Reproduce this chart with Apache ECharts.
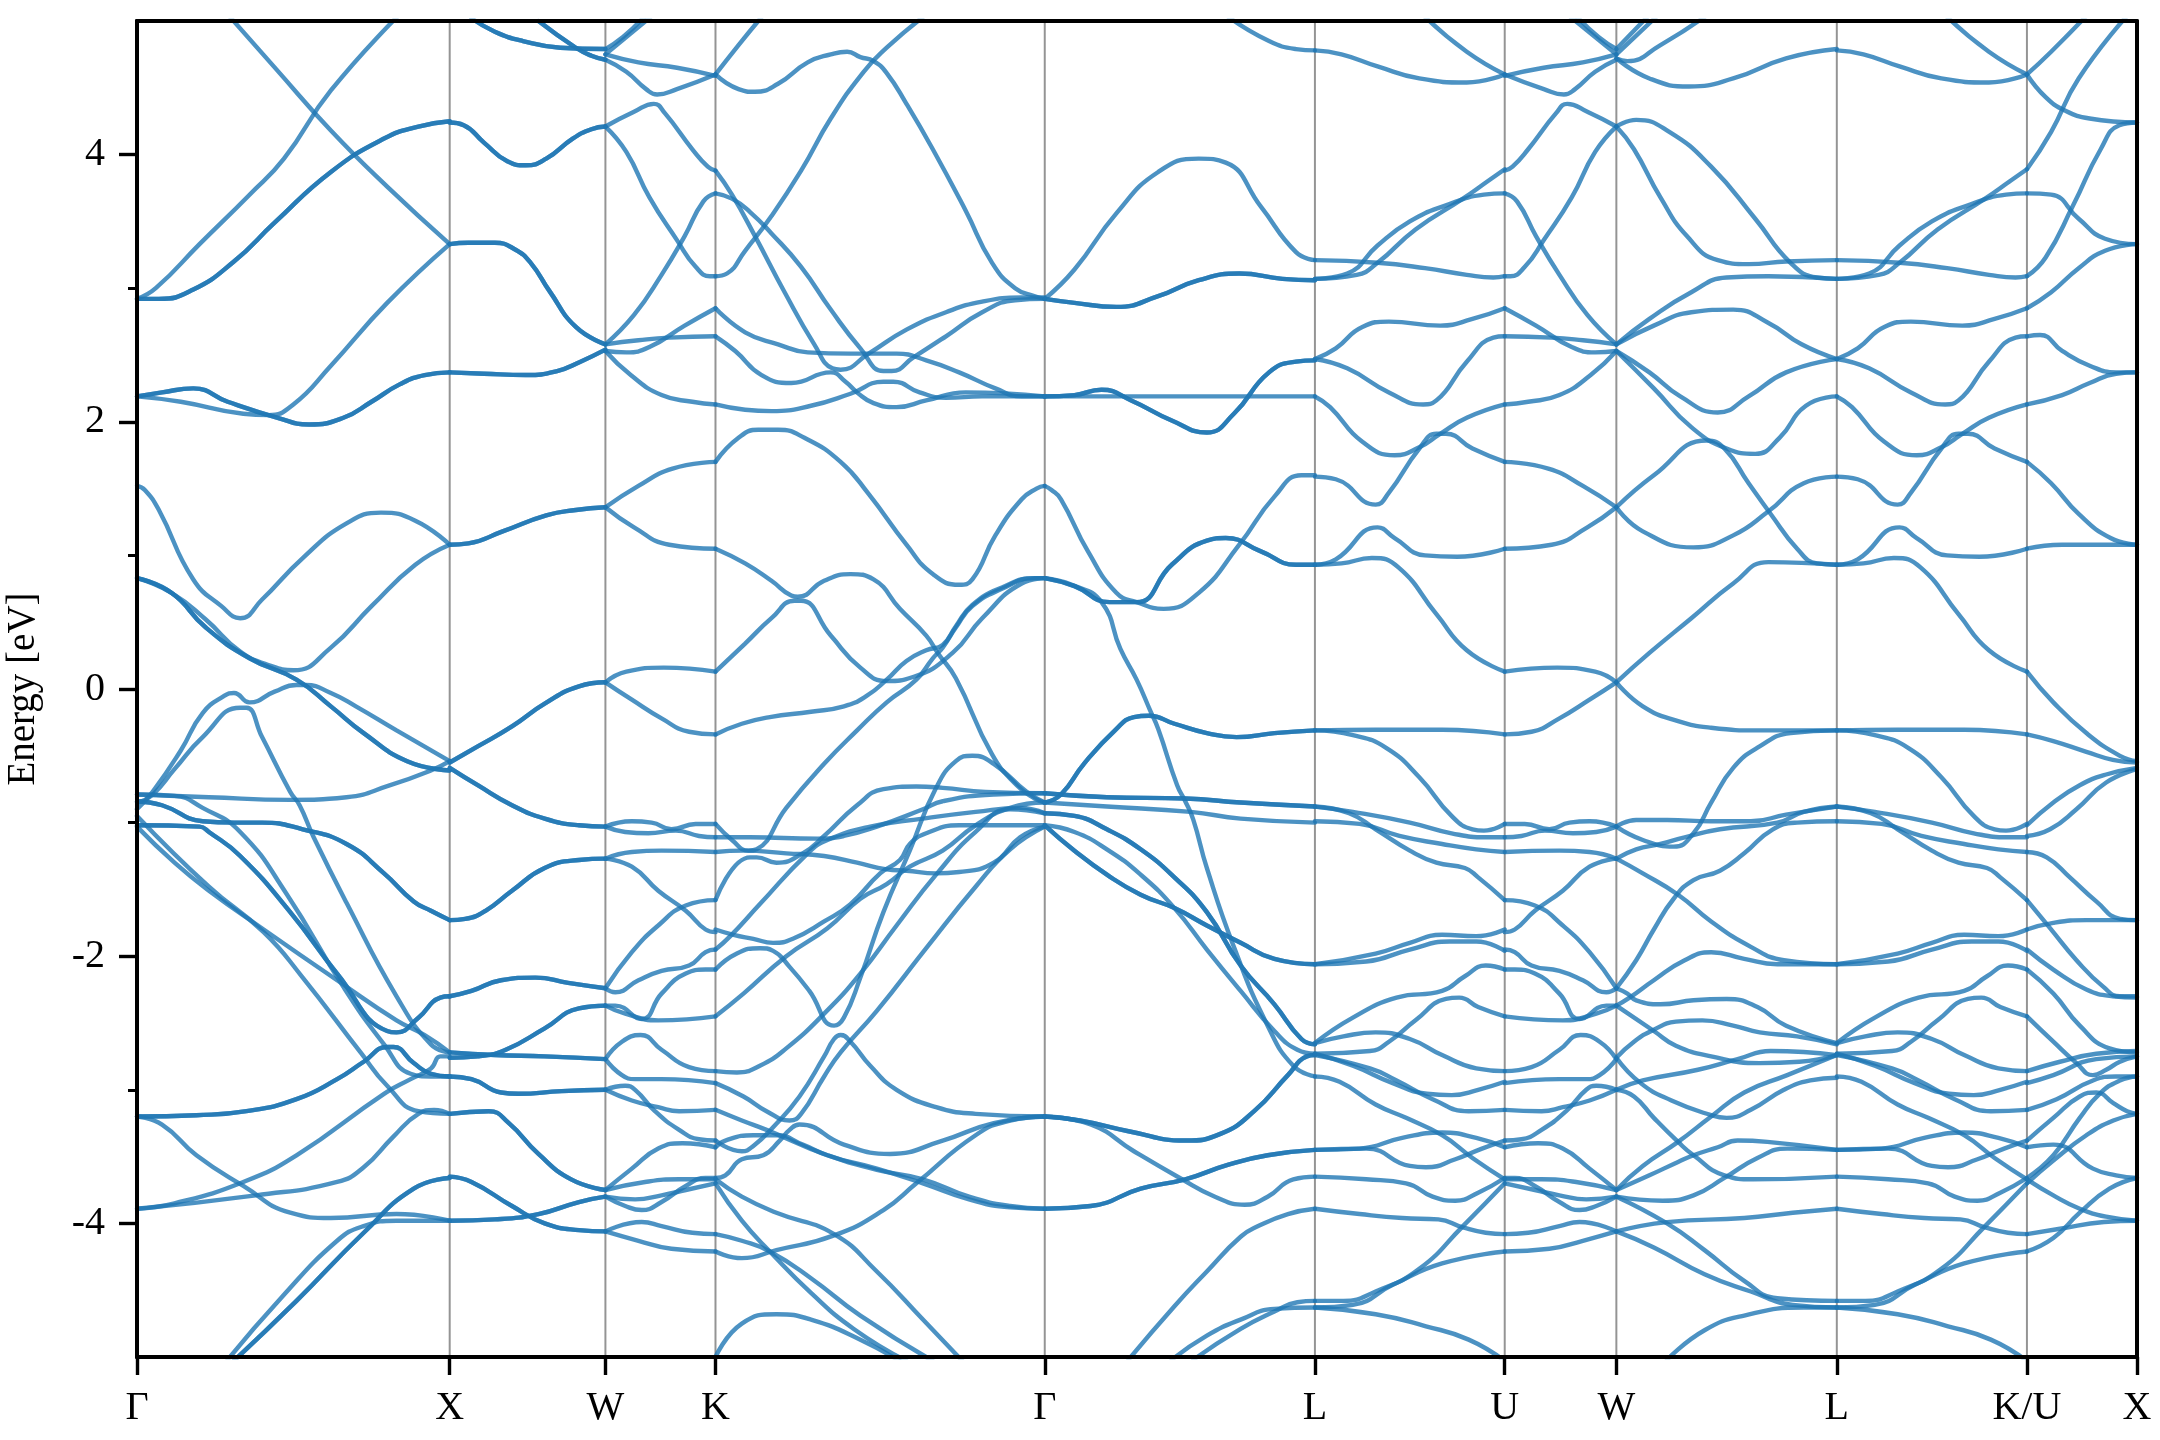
<!DOCTYPE html>
<html><head><meta charset="utf-8">
<style>html,body{margin:0;padding:0;background:#fff}#c{width:2160px;height:1440px}</style>
<script src="https://cdn.jsdelivr.net/npm/echarts@6/dist/echarts.min.js"></script>
</head><body><div id="c"></div>
<script>
const tickLabels = ['Γ','X','W','K','Γ','L','U','W','L','K/U','X'];
const tickK = [0,1,1.498,1.85,2.903,3.767,4.374,4.731,5.436,6.044,6.396];
const energyMajor = [-4,-2,0,2,4];
const energyMinor = [-3,-1,1,3];

// Each band: [fraction along the path segment, energy in eV]
const bandsGX = [
 [[0,2.92],[.06,3.0],[.2,3.33],[.36,3.7],[.47,3.97],[.62,4.48],[.84,5.05]],
 [[.29,5.05],[.445,4.64],[.62,4.18],[.8,3.76],[1,3.33]],
 [[0,2.19],[.14,2.15],[.34,2.06],[.42,2.05],[.5,2.13],[.62,2.42],[.8,2.89],[1,3.33]],
 [[0,1.52],[.025,1.49],[.07,1.34],[.18,.82],[.27,.62],[.33,.53],[.4,.67],[.53,.98],[.67,1.24],[.78,1.32],[.89,1.26],[1,1.08]],
 [[0,.83],[.11,.72],[.22,.52],[.33,.28],[.42,.18],[.5,.14],[.62,.31],[.75,.62],[.89,.93],[1,1.08]],
 [[0,-.9],[.05,-.77],[.14,-.46],[.21,-.18],[.28,-.05],[.31,-.03],[.36,-.1],[.44,-.02],[.51,.03],[.54,.03],[.62,-.03],[.7,-.13],[.83,-.31],[1,-.54]],
 [[0,-.85],[.05,-.79],[.12,-.6],[.21,-.36],[.33,-.14],[.35,-.14],[.4,-.36],[.49,-.77],[.52,-.87],[.565,-1.11],[.67,-1.6],[.83,-2.3],[.94,-2.66],[1,-2.72]],
 [[0,-.79],[.23,-.81],[.49,-.83],[.67,-.81],[.81,-.72],[.94,-.61],[1,-.54]],
 [[0,-.79],[.12,-.8],[.21,-.89],[.33,-1.07],[.48,-1.54],[.66,-2.23],[.79,-2.66],[.875,-2.88],[.94,-2.9],[1,-2.9]],
 [[0,-.95],[.23,-1.48],[.405,-1.82],[.53,-2.16],[.715,-2.72],[.8,-2.97],[.9,-3.16],[1,-3.18]],
 [[0,-1.03],[.12,-1.3],[.23,-1.51],[.405,-1.8],[.64,-2.18],[.83,-2.48],[.92,-2.59],[1,-2.72]],
 [[0,-3.89],[.12,-3.85],[.34,-3.69],[.51,-3.49],[.79,-3.03],[.875,-2.92],[.94,-2.84],[.97,-2.75],[1,-2.75]],
 [[0,-3.89],[.38,-3.79],[.64,-3.69],[.725,-3.58],[.82,-3.35],[.9,-3.18],[.95,-3.15],[1,-3.18]],
 [[0,-3.2],[.08,-3.26],[.19,-3.49],[.34,-3.72],[.49,-3.92],[.62,-3.96],[.83,-3.93],[1,-3.98]],
 [[.29,-5.02],[.46,-4.56],[.64,-4.13],[.725,-4.02],[.83,-3.98],[1,-3.98]]
];
const bandsGXDouble = [
 [[0,2.92],[.07,2.92],[.18,2.99],[.31,3.2],[.44,3.49],[.62,3.87],[.79,4.12],[.9,4.21],[1,4.25]],
 [[0,2.19],[.08,2.22],[.18,2.25],[.29,2.15],[.45,2.03],[.55,1.98],[.66,2.03],[.75,2.15],[.84,2.28],[.92,2.35],[1,2.37]],
 [[0,.83],[.11,.72],[.22,.46],[.36,.23],[.51,.07],[.62,-.13],[.725,-.33],[.864,-.54],[1,-.61]],
 [[0,-.84],[.08,-.87],[.21,-.99],[.31,-1],[.4,-1],[.53,-1.05],[.67,-1.16],[.79,-1.38],[.885,-1.59],[.94,-1.66],[1,-1.73]],
 [[0,-1.02],[.2,-1.03],[.23,-1.07],[.33,-1.25],[.49,-1.67],[.64,-2.13],[.8,-2.56],[.83,-2.57],[.9,-2.46],[.97,-2.31],[1,-2.3]],
 [[0,-3.2],[.19,-3.19],[.35,-3.16],[.51,-3.07],[.64,-2.92],[.725,-2.79],[.8,-2.68],[.82,-2.68],[.885,-2.8],[.94,-2.88],[1,-2.9]],
 [[.3,-5.05],[.51,-4.58],[.725,-4.07],[.885,-3.74],[1,-3.66]]
];
const bandsXWDouble = [
 [[0,-.55],[.18,-.43],[.4,-.28],[.61,-.11],[.83,.02],[1,.05]],
 [[0,-.59],[.18,-.72],[.4,-.87],[.61,-.97],[.83,-1.02],[1,-1.03]],
 [[0,-1.73],[.1,-1.72],[.23,-1.66],[.4,-1.51],[.61,-1.34],[.83,-1.28],[1,-1.27]],
 [[0,-2.3],[.14,-2.26],[.33,-2.18],[.55,-2.16],[.76,-2.2],[1,-2.24]],
 [[0,-2.76],[.18,-2.75],[.36,-2.7],[.61,-2.54],[.83,-2.39],[1,-2.37]],
 [[0,-2.72],[.29,-2.74],[.61,-2.75],[1,-2.77]],
 [[0,-2.9],[.14,-2.92],[.33,-3.02],[.44,-3.03],[.72,-3.01],[1,-3]],
 [[0,-3.18],[.25,-3.16],[.38,-3.25],[.57,-3.48],[.78,-3.67],[1,-3.75]],
 [[0,-3.65],[.14,-3.69],[.4,-3.87],[.61,-4],[.83,-4.05],[1,-4.06]],
 [[0,-3.98],[.29,-3.97],[.57,-3.93],[.83,-3.84],[1,-3.8]],
 [[0,3.33],[.12,3.34],[.29,3.34],[.42,3.29],[.52,3.19],[.64,2.98],[.81,2.71],[1,2.58]],
 [[0,4.24],[.09,4.22],[.22,4.09],[.37,3.95],[.49,3.92],[.62,3.97],[.79,4.12],[.91,4.19],[1,4.21]],
 [[0,2.37],[.22,2.36],[.49,2.35],[.69,2.38],[.84,2.45],[1,2.54]],
 [[0,1.08],[.12,1.09],[.34,1.18],[.62,1.3],[.81,1.34],[1,1.36]],
 [[.14,5.02],[.29,4.92],[.47,4.85],[.71,4.8],[1,4.79]],
 [[.57,5],[.81,4.8],[.91,4.74],[1,4.71]]
];
const bandsWK = [
 [[0,.05],[.24,-.08],[.51,-.22],[.76,-.32],[1,-.34]],
 [[0,.05],[.19,.13],[.53,.16],[1,.13]],
 [[0,-1.03],[.24,-.99],[.42,-1],[.6,-1.05],[.82,-1.01],[1,-1.01]],
 [[0,-1.03],[.18,-1.07],[.39,-1.08],[.64,-1.06],[.85,-1.1],[1,-1.11]],
 [[0,-1.27],[.24,-1.22],[.51,-1.21],[1,-1.22]],
 [[0,-1.27],[.24,-1.33],[.48,-1.51],[.73,-1.66],[.91,-1.8],[1,-1.82]],
 [[0,-2.24],[.24,-1.97],[.48,-1.77],[.73,-1.62],[1,-1.58]],
 [[0,-2.24],[.09,-2.27],[.3,-2.18],[.51,-2.11],[.76,-2.07],[.91,-1.97],[1,-1.95]],
 [[0,-2.37],[.09,-2.37],[.33,-2.47],[.51,-2.28],[.73,-2.13],[.91,-2.1],[1,-2.1]],
 [[0,-2.37],[.18,-2.43],[.48,-2.48],[1,-2.45]],
 [[0,-2.77],[.15,-2.64],[.32,-2.59],[.51,-2.7],[.76,-2.83],[1,-2.86]],
 [[0,-2.77],[.15,-2.89],[.27,-2.92],[.51,-2.92],[1,-2.95]],
 [[0,-3],[.18,-2.97],[.27,-3],[.45,-3.16],[.67,-3.3],[.85,-3.37],[1,-3.38]],
 [[0,-3],[.24,-3.08],[.48,-3.13],[.67,-3.16],[1,-3.15]],
 [[0,-3.75],[.24,-3.59],[.48,-3.44],[.7,-3.4],[1,-3.43]],
 [[0,-3.75],[.36,-3.69],[.67,-3.67],[1,-3.67]],
 [[0,-3.8],[.27,-3.82],[.51,-3.79],[.73,-3.75],[1,-3.7]],
 [[0,-3.8],[.18,-3.87],[.33,-3.9],[.51,-3.84],[.73,-3.72],[.91,-3.66],[1,-3.66]],
 [[0,-4.06],[.33,-3.99],[.51,-4.02],[.79,-4.07],[1,-4.08]],
 [[0,-4.06],[.3,-4.13],[.6,-4.19],[1,-4.21]],
 [[0,1.36],[.3,1.52],[.61,1.65],[1,1.7]],
 [[0,1.36],[.26,1.21],[.58,1.08],[1,1.05]],
 [[0,2.58],[.3,2.61],[.58,2.63],[1,2.64]],
 [[0,2.53],[.19,2.52],[.4,2.56],[.72,2.72],[1,2.85]],
 [[0,2.53],[.23,2.35],[.51,2.2],[.79,2.15],[1,2.13]],
 [[0,2.58],[.26,2.8],[.51,3.1],[.72,3.39],[.89,3.65],[1,3.71]],
 [[0,4.21],[.19,4.02],[.4,3.68],[.65,3.36],[.82,3.16],[.95,3.09],[1,3.09]],
 [[0,4.21],[.26,4.32],[.44,4.38],[.54,4.31],[.79,4.04],[.93,3.91],[1,3.88]],
 [[0,4.71],[.19,4.62],[.37,4.49],[.47,4.45],[.65,4.49],[1,4.6]],
 [[0,4.75],[.3,4.69],[.65,4.65],[1,4.59]],
 [[0,4.79],[.16,4.88],[.35,5.03]],
 [[0,4.75],[.19,4.88],[.41,5.03]]
];
const bandsKG = [
 [[0,4.6],[.07,4.49],[.12,4.47],[.19,4.53],[.28,4.69],[.35,4.75],[.4,4.77],[.44,4.73],[.48,4.7],[.52,4.61],[.58,4.38],[.66,4.04],[.76,3.58],[.84,3.19],[.91,3],[.97,2.94],[1,2.92]],
 [[0,4.6],[.07,4.82],[.14,5.03]],
 [[0,3.09],[.035,3.11],[.09,3.28],[.17,3.54],[.26,3.88],[.35,4.27],[.45,4.62],[.52,4.8],[.63,5.03]],
 [[0,3.88],[.05,3.7],[.12,3.39],[.21,2.97],[.3,2.58],[.355,2.4],[.38,2.39],[.465,2.51],[.58,2.69],[.7,2.82],[.81,2.9],[.93,2.93],[1,2.93]],
 [[0,3.71],[.05,3.67],[.105,3.57],[.17,3.41],[.26,3.16],[.35,2.84],[.44,2.55],[.51,2.38],[.535,2.38],[.6,2.48],[.7,2.64],[.81,2.82],[.91,2.91],[1,2.92]],
 [[0,2.85],[.09,2.67],[.19,2.58],[.28,2.52],[.41,2.51],[.55,2.51],[.64,2.46],[.74,2.37],[.85,2.25],[.93,2.19],[1,2.19]],
 [[0,2.64],[.06,2.53],[.14,2.35],[.23,2.29],[.35,2.37],[.395,2.3],[.43,2.22],[.48,2.14],[.55,2.11],[.64,2.16],[.76,2.22],[1,2.19]],
 [[0,2.13],[.09,2.09],[.17,2.08],[.29,2.12],[.41,2.21],[.51,2.3],[.54,2.3],[.62,2.22],[.7,2.18],[.81,2.19],[1,2.19]],
 [[0,1.7],[.07,1.88],[.13,1.94],[.19,1.94],[.27,1.88],[.38,1.7],[.465,1.46],[.58,1.08],[.66,.86],[.74,.78],[.78,.82],[.85,1.15],[.93,1.42],[.975,1.5],[1,1.52]],
 [[0,1.05],[.09,.94],[.17,.81],[.23,.7],[.25,.69],[.33,.81],[.41,.86],[.48,.82],[.56,.6],[.64,.4],[.675,.27],[.73,.08],[.84,-.49],[.915,-.72],[.97,-.82],[1,-.85]],
 [[0,.13],[.09,.34],[.17,.53],[.24,.66],[.26,.66],[.35,.4],[.44,.16],[.52,.06],[.6,.09],[.72,.27],[.81,.53],[.93,.79],[1,.83]],
 [[0,-.34],[.08,-.26],[.165,-.21],[.29,-.17],[.39,-.13],[.46,-.05],[.52,.07],[.58,.21],[.64,.29],[.69,.33],[.73,.47],[.78,.63],[.87,.76],[.97,.83],[1,.83]],
 [[0,-1.01],[.05,-1.13],[.1,-1.21],[.125,-1.2],[.215,-.89],[.33,-.56],[.43,-.31],[.52,-.1],[.61,.07],[.66,.23],[.69,.31],[.73,.46],[.78,.62],[.87,.75],[.97,.83],[1,.83]],
 [[0,-1.11],[.105,-1.11],[.31,-1.12],[.39,-1.1],[.49,-1.03],[.63,-.9],[.69,-.84],[.845,-.79],[1,-.78]],
 [[0,-1.22],[.085,-1.21],[.215,-1.23],[.33,-1.25],[.43,-1.3],[.52,-1.35],[.58,-1.36],[.67,-1.38],[.74,-1.37],[.845,-1.3],[.925,-1.11],[1,-1.03]],
 [[0,-1.58],[.105,-1.26],[.125,-1.26],[.185,-1.3],[.265,-1.23],[.33,-1.1],[.43,-.87],[.51,-.75],[.61,-.73],[.69,-.74],[.82,-.77],[1,-.78]],
 [[0,-1.8],[.055,-1.84],[.115,-1.87],[.175,-1.9],[.235,-1.87],[.33,-1.74],[.41,-1.61],[.5,-1.38],[.56,-1.28],[.59,-1.16],[.64,-1.08],[.74,-1.02],[1,-1.02]],
 [[0,-1.95],[.045,-1.85],[.135,-1.61],[.28,-1.23],[.34,-1.13],[.47,-1.03],[.63,-.97],[.79,-.92],[.925,-.89],[1,-.93]],
 [[0,-2.1],[.065,-1.98],[.135,-1.94],[.175,-1.96],[.225,-2.08],[.285,-2.26],[.36,-2.52],[.39,-2.46],[.44,-2.16],[.51,-1.67],[.59,-1.21],[.67,-.74],[.73,-.54],[.78,-.5],[.845,-.56],[.945,-.77],[1,-.85]],
 [[0,-2.45],[.085,-2.28],[.215,-2],[.34,-1.79],[.44,-1.57],[.52,-1.46],[.59,-1.33],[.69,-1.21],[.79,-1.02],[.895,-.89],[1,-.85]],
 [[0,-2.86],[.065,-2.87],[.135,-2.82],[.215,-2.69],[.33,-2.43],[.44,-2.13],[.55,-1.77],[.67,-1.39],[.79,-1.07],[.895,-.9],[1,-.93]],
 [[0,-2.95],[.085,-3.05],[.155,-3.16],[.225,-3.23],[.26,-3.18],[.33,-2.9],[.38,-2.72],[.49,-2.41],[.64,-1.94],[.79,-1.48],[.895,-1.2],[1,-1.03]],
 [[0,-3.38],[.08,-3.46],[.115,-3.42],[.175,-3.28],[.255,-3.05],[.33,-2.75],[.36,-2.62],[.38,-2.59],[.41,-2.64],[.47,-2.82],[.55,-3],[.67,-3.13],[.79,-3.18],[1,-3.2]],
 [[0,-3.66],[.03,-3.64],[.08,-3.52],[.145,-3.49],[.195,-3.38],[.225,-3.3],[.255,-3.26],[.39,-3.41],[.53,-3.48],[.69,-3.38],[.845,-3.25],[1,-3.2]],
 [[0,-4.21],[.08,-4.26],[.185,-4.2],[.36,-4.09],[.51,-3.9],[.61,-3.7],[.79,-3.34],[.895,-3.23],[1,-3.2]],
 [[0,-3.15],[.08,-3.23],[.155,-3.3],[.34,-3.49],[.49,-3.59],[.63,-3.7],[.77,-3.82],[.895,-3.88],[1,-3.89]],
 [[0,-3.43],[.03,-3.38],[.115,-3.34],[.185,-3.34],[.265,-3.41],[.34,-3.49],[.49,-3.6],[.63,-3.67],[.77,-3.8],[.895,-3.87],[1,-3.89]],
 [[0,-3.67],[.08,-3.8],[.185,-3.92],[.36,-4.08],[.49,-4.36],[.63,-4.72],[.75,-5.03]],
 [[0,-4.08],[.08,-4.13],[.165,-4.21],[.29,-4.41],[.44,-4.69],[.66,-5.03]],
 [[0,-3.7],[.08,-3.98],[.165,-4.21],[.29,-4.52],[.42,-4.79],[.58,-5.03]],
 [[0,-5],[.08,-4.75],[.185,-4.68],[.29,-4.72],[.44,-4.87],[.56,-5.03]]
];
const bandsGL = [
 [[0,2.92],[.11,3.14],[.265,3.56],[.42,3.87],[.57,3.97],[.67,3.94],[.8,3.61],[.93,3.27],[1,3.21]],
 [[0,2.19],[.5,2.19],[1,2.19]],
 [[.68,5.03],[.83,4.85],[.93,4.79],[1,4.78]],
 [[0,1.52],[.025,1.49],[.06,1.42],[.16,1.03],[.265,.72],[.34,.65],[.44,.6],[.57,.72],[.72,1.08],[.85,1.44],[.95,1.6],[1,1.6]],
 [[0,.83],[.1,.78],[.21,.65],[.28,.3],[.34,.07],[.39,-.16],[.42,-.3],[.49,-.72],[.52,-.84],[.55,-.98],[.6,-1.34],[.7,-1.93],[.825,-2.52],[.92,-2.82],[1,-2.9]],
 [[0,-.85],[.23,-.88],[.54,-.92],[.725,-.97],[1,-1]],
 [[0,-1.02],[.11,-1.07],[.23,-1.2],[.355,-1.39],[.48,-1.64],[.6,-1.95],[.725,-2.26],[.85,-2.56],[.935,-2.7],[1,-2.73]],
 [[0,-3.2],[.17,-3.26],[.33,-3.46],[.5,-3.66],[.63,-3.8],[.74,-3.86],[.825,-3.8],[.92,-3.67],[1,-3.65]],
 [[.31,-5.02],[.48,-4.62],[.6,-4.36],[.725,-4.1],[.79,-4.02],[.9,-3.93],[1,-3.89]],
 [[.47,-5.02],[.6,-4.84],[.725,-4.72],[.85,-4.64],[1,-4.63]],
 [[.55,-5.02],[.725,-4.79],[.85,-4.66],[.935,-4.59],[1,-4.58]]
];
const bandsGLDouble = [
 [[0,2.92],[.11,2.89],[.265,2.86],[.42,2.94],[.57,3.06],[.72,3.11],[.88,3.07],[1,3.06]],
 [[0,2.19],[.11,2.2],[.21,2.24],[.32,2.16],[.47,2.01],[.6,1.92],[.7,2.06],[.83,2.37],[.93,2.45],[1,2.46]],
 [[0,.83],[.11,.77],[.24,.65],[.34,.65],[.47,.93],[.6,1.11],[.67,1.13],[.8,1.03],[.93,.93],[1,.93]],
 [[0,-.85],[.06,-.79],[.145,-.56],[.26,-.31],[.33,-.21],[.385,-.2],[.48,-.26],[.6,-.33],[.71,-.36],[.85,-.33],[1,-.31]],
 [[0,-.78],[.23,-.81],[.52,-.82],[.725,-.85],[1,-.88]],
 [[0,-.93],[.11,-.95],[.23,-1.05],[.355,-1.2],[.48,-1.41],[.6,-1.67],[.725,-2.07],[.85,-2.36],[.95,-2.62],[1,-2.66]],
 [[0,-1.02],[.11,-1.21],[.23,-1.39],[.355,-1.54],[.48,-1.64],[.6,-1.77],[.725,-1.9],[.85,-2.02],[1,-2.06]],
 [[0,-3.2],[.13,-3.23],[.31,-3.31],[.52,-3.38],[.65,-3.33],[.775,-3.16],[.9,-2.89],[.97,-2.75],[1,-2.74]],
 [[0,-3.89],[.17,-3.87],[.355,-3.74],[.52,-3.67],[.68,-3.56],[.825,-3.49],[1,-3.45]]
];
const bandsLU = [
 [[0,-.31],[.32,-.305],[.67,-.305],[1,-.34]],
 [[0,-.31],[.2,-.345],[.375,-.44],[.55,-.66],[.72,-.95],[.83,-1.05],[.89,-1.06],[1,-1.01]],
 [[0,-.88],[.2,-.92],[.5,-1],[.72,-1.08],[.9,-1.11],[1,-1.11]],
 [[0,-.99],[.235,-1.01],[.445,-1.1],[.67,-1.16],[.85,-1.2],[1,-1.22]],
 [[0,-.88],[.18,-.93],[.32,-1.05],[.5,-1.21],[.64,-1.3],[.79,-1.34],[.86,-1.41],[1,-1.58]],
 [[0,-2.06],[.32,-1.98],[.5,-1.9],[.67,-1.84],[.85,-1.85],[1,-1.8]],
 [[0,-2.06],[.27,-2.04],[.5,-1.95],[.71,-1.89],[.85,-1.89],[1,-1.96]],
 [[0,-2.65],[.2,-2.46],[.43,-2.31],[.67,-2.26],[.79,-2.15],[.9,-2.07],[1,-2.1]],
 [[0,-2.73],[.29,-2.71],[.39,-2.64],[.53,-2.48],[.69,-2.32],[.76,-2.31],[.86,-2.38],[1,-2.45]],
 [[0,-2.65],[.15,-2.6],[.32,-2.57],[.5,-2.62],[.67,-2.74],[.85,-2.84],[1,-2.86]],
 [[0,-2.73],[.2,-2.82],[.41,-2.95],[.59,-3.03],[.72,-3.04],[.86,-3],[1,-2.94]],
 [[0,-2.74],[.29,-2.84],[.43,-2.93],[.62,-3.07],[.81,-3.16],[1,-3.15]],
 [[0,-2.9],[.13,-2.94],[.32,-3.11],[.48,-3.21],[.67,-3.34],[.83,-3.51],[1,-3.67]],
 [[0,-3.45],[.235,-3.44],[.46,-3.36],[.67,-3.32],[.85,-3.36],[1,-3.43]],
 [[0,-3.45],[.27,-3.44],[.5,-3.57],[.585,-3.58],[.74,-3.52],[.88,-3.44],[1,-3.38]],
 [[0,-3.65],[.27,-3.67],[.48,-3.7],[.62,-3.8],[.74,-3.83],[.86,-3.77],[1,-3.66]],
 [[0,-3.89],[.235,-3.93],[.46,-3.96],[.65,-3.97],[.78,-4.03],[.9,-4.07],[1,-4.08]],
 [[0,-4.58],[.15,-4.58],[.32,-4.51],[.55,-4.34],[.78,-4.02],[1,-3.7]],
 [[0,-4.63],[.2,-4.61],[.41,-4.46],[.67,-4.3],[1,-4.21]],
 [[0,-4.63],[.32,-4.68],[.585,-4.77],[.81,-4.87],[1,-5.03]],
 [[0,4.78],[.14,4.75],[.33,4.66],[.55,4.57],[.8,4.54],[1,4.6]],
 [[.58,5.03],[.8,4.77],[1,4.6]],
 [[0,3.21],[.33,3.19],[.58,3.15],[.8,3.1],[.94,3.08],[1,3.09]],
 [[0,3.07],[.17,3.11],[.33,3.32],[.5,3.5],[.69,3.62],[.89,3.7],[1,3.71]],
 [[0,3.07],[.22,3.1],[.33,3.19],[.53,3.44],[.78,3.67],[.91,3.8],[1,3.89]],
 [[0,2.47],[.11,2.55],[.25,2.71],[.39,2.75],[.66,2.72],[.83,2.77],[1,2.85]],
 [[0,2.47],[.17,2.4],[.39,2.22],[.57,2.13],[.64,2.16],[.8,2.45],[.94,2.63],[1,2.64]],
 [[0,2.19],[.08,2.11],[.25,1.85],[.42,1.75],[.55,1.81],[.66,1.91],[.8,2.03],[1,2.13]],
 [[0,1.59],[.11,1.57],[.32,1.38],[.39,1.47],[.55,1.8],[.64,1.91],[.69,1.91],[.83,1.8],[1,1.7]],
 [[0,.93],[.11,.97],[.33,1.21],[.42,1.13],[.58,1],[.75,.99],[1,1.05]],
 [[0,.93],[.14,.94],[.3,.98],[.44,.91],[.64,.56],[.8,.29],[1,.13]]
];
const bandsWL = [
 [[0,4.72],[.15,4.57],[.33,4.51],[.53,4.57],[.77,4.72],[1,4.79]],
 [[0,4.79],[.14,5.03]],
 [[0,4.75],[.18,5.03]],
 [[0,4.72],[.05,4.7],[.2,4.82],[.4,5.03]],
 [[0,4.21],[.09,4.26],[.24,4.17],[.43,3.91],[.63,3.52],[.79,3.19],[.91,3.08],[1,3.07]],
 [[0,4.21],[.08,4.04],[.2,3.68],[.32,3.39],[.46,3.21],[.6,3.18],[.77,3.2],[1,3.21]],
 [[0,2.58],[.15,2.77],[.34,2.97],[.5,3.08],[.69,3.09],[1,3.07]],
 [[0,2.58],[.17,2.72],[.34,2.82],[.53,2.84],[.69,2.74],[.84,2.58],[1,2.47]],
 [[0,2.53],[.15,2.37],[.29,2.19],[.46,2.07],[.6,2.19],[.77,2.37],[1,2.47]],
 [[0,2.53],[.17,2.25],[.34,1.96],[.5,1.8],[.63,1.76],[.74,1.88],[.86,2.12],[1,2.19]],
 [[0,1.36],[.12,1.18],[.35,1.06],[.53,1.15],[.69,1.33],[.85,1.54],[1,1.59]],
 [[0,1.36],[.17,1.6],[.41,1.86],[.49,1.8],[.6,1.54],[.7,1.31],[.82,1.05],[.91,.94],[1,.93]],
 [[0,.05],[.15,.27],[.34,.53],[.53,.79],[.69,.95],[1,.93]],
 [[0,.05],[.12,-.13],[.28,-.24],[.43,-.29],[.65,-.31],[1,-.31]],
 [[0,-2.24],[.09,-2.03],[.17,-1.8],[.26,-1.57],[.35,-1.43],[.47,-1.36],[.58,-1.23],[.71,-1.05],[.82,-1],[1,-.99]],
 [[0,-1.27],[.12,-1.38],[.28,-1.54],[.43,-1.74],[.61,-1.93],[.76,-2.03],[1,-2.06]],
 [[0,-1.03],[.12,-1.13],[.26,-1.18],[.35,-1.08],[.43,-.85],[.53,-.59],[.65,-.43],[.79,-.33],[1,-.31]],
 [[0,-1.03],[.09,-.98],[.23,-.98],[.43,-.99],[.61,-.99],[.77,-.94],[1,-.88]],
 [[0,-1.27],[.09,-1.2],[.2,-1.16],[.31,-1.11],[.47,-1.05],[.73,-1],[.85,-.92],[1,-.88]],
 [[0,-2.24],[.05,-2.28],[.09,-2.33],[.2,-2.36],[.35,-2.33],[.5,-2.32],[.64,-2.38],[.77,-2.52],[1,-2.65]],
 [[0,-2.37],[.06,-2.31],[.17,-2.18],[.31,-2.03],[.43,-1.97],[.58,-2.02],[.73,-2.06],[1,-2.06]],
 [[0,-2.37],[.17,-2.56],[.27,-2.67],[.43,-2.75],[.65,-2.8],[.83,-2.79],[1,-2.74]],
 [[0,-2.76],[.08,-2.64],[.17,-2.55],[.27,-2.49],[.39,-2.48],[.53,-2.52],[.65,-2.57],[.82,-2.6],[1,-2.66]],
 [[0,-2.76],[.11,-2.95],[.25,-3.08],[.43,-3.19],[.5,-3.21],[.61,-3.15],[.76,-3],[.88,-2.93],[1,-2.91]],
 [[0,-3],[.12,-2.93],[.37,-2.85],[.55,-2.77],[.7,-2.71],[1,-2.74]],
 [[0,-3],[.08,-3.05],[.17,-3.21],[.28,-3.39],[.35,-3.49],[.49,-3.64],[.62,-3.67],[1,-3.65]],
 [[0,-3.75],[.12,-3.57],[.28,-3.39],[.43,-3.2],[.58,-3.02],[.775,-2.89],[1,-2.74]],
 [[0,-3.75],[.15,-3.64],[.28,-3.54],[.35,-3.49],[.46,-3.43],[.55,-3.38],[.685,-3.39],[1,-3.45]],
 [[0,-3.8],[.21,-3.83],[.35,-3.79],[.49,-3.66],[.64,-3.51],[.775,-3.44],[1,-3.45]],
 [[0,-3.8],[.23,-4],[.4,-4.2],[.58,-4.43],[.73,-4.56],[1,-4.58]],
 [[0,-4.06],[.23,-3.99],[.58,-3.96],[.8,-3.92],[1,-3.89]],
 [[0,-4.06],[.17,-4.18],[.4,-4.38],[.61,-4.51],[.8,-4.61],[1,-4.63]],
 [[.23,-5.02],[.4,-4.8],[.58,-4.69],[.85,-4.63],[1,-4.63]]
];
const bandsUX = [
 [[0,4.6],[.22,4.77],[.53,5.03]],
 [[0,4.6],[.17,4.43],[.345,4.33],[.57,4.27],[1,4.24]],
 [[0,3.89],[.22,4.17],[.47,4.57],[.9,5.03]],
 [[0,3.71],[.22,3.7],[.47,3.52],[.71,3.37],[1,3.33]],
 [[0,3.09],[.17,3.23],[.42,3.62],[.67,4.04],[.84,4.22],[1,4.24]],
 [[0,2.85],[.22,2.97],[.47,3.15],[.71,3.28],[1,3.33]],
 [[0,2.64],[.12,2.65],[.32,2.53],[.57,2.42],[.81,2.37],[1,2.37]],
 [[0,2.13],[.32,2.2],[.57,2.29],[.81,2.36],[1,2.37]],
 [[0,1.7],[.22,1.54],[.47,1.31],[.76,1.13],[1,1.08]],
 [[0,1.05],[.32,1.08],[1,1.08]],
 [[0,.13],[.24,-.1],[.54,-.33],[.845,-.5],[1,-.54]],
 [[0,-.34],[.24,-.39],[.54,-.47],[.78,-.53],[1,-.55]],
 [[0,-1.02],[.24,-.85],[.48,-.72],[.72,-.64],[1,-.59]],
 [[0,-1.1],[.21,-1.05],[.45,-.9],[.72,-.7],[1,-.6]],
 [[0,-1.22],[.18,-1.26],[.39,-1.41],[.63,-1.59],[.845,-1.72],[1,-1.73]],
 [[0,-1.58],[.21,-1.79],[.45,-2.03],[.695,-2.23],[.845,-2.3],[1,-2.3]],
 [[0,-1.8],[.24,-1.75],[.54,-1.73],[1,-1.73]],
 [[0,-1.95],[.24,-2.1],[.54,-2.25],[.78,-2.3],[1,-2.31]],
 [[0,-2.1],[.24,-2.28],[.48,-2.52],[.75,-2.69],[1,-2.72]],
 [[0,-2.45],[.24,-2.64],[.45,-2.8],[.6,-2.89],[.72,-2.85],[.845,-2.79],[1,-2.75]],
 [[0,-2.86],[.3,-2.79],[.63,-2.73],[1,-2.71]],
 [[0,-2.95],[.24,-2.89],[.63,-2.77],[1,-2.75]],
 [[0,-3.15],[.27,-3.07],[.6,-2.93],[.81,-2.9],[1,-2.9]],
 [[0,-3.38],[.24,-3.21],[.48,-3.05],[.63,-3.02],[.785,-3.1],[.91,-3.16],[1,-3.18]],
 [[0,-3.43],[.24,-3.41],[.6,-3.59],[.81,-3.64],[1,-3.66]],
 [[0,-3.66],[.24,-3.49],[.48,-3.21],[.66,-3.03],[.845,-2.93],[1,-2.9]],
 [[0,-3.7],[.24,-3.53],[.54,-3.34],[.785,-3.23],[1,-3.18]],
 [[0,-3.67],[.24,-3.79],[.48,-3.89],[.72,-3.95],[1,-3.98]],
 [[0,-4.08],[.3,-4.04],[.7,-3.99],[1,-3.98]],
 [[0,-4.21],[.24,-4.11],[.48,-3.92],[.75,-3.74],[1,-3.66]]
];

// Which traced segment lies between which pair of high-symmetry points
const segments = [
 [bandsGX,0,1],[bandsGXDouble,0,1],[bandsGXDouble,0,1],
 [bandsXWDouble,1,2],[bandsXWDouble,1,2],
 [bandsWK,2,3],[bandsKG,3,4],
 [bandsGL,4,5],[bandsGLDouble,4,5],[bandsGLDouble,4,5],
 [bandsLU,5,6],[bandsWK,7,6],[bandsWL,7,8],[bandsLU,8,9],[bandsUX,9,10]
];

const series = [];
tickK.slice(1,-1).forEach(k => series.push({
  type:'line', data:[[k,-5],[k,5]], showSymbol:false, silent:true, z:1,
  lineStyle:{color:'rgba(0,0,0,0.42)', width:2}
}));
segments.forEach(([bands,a,b]) => bands.forEach(band => series.push({
  type:'line', showSymbol:false, silent:true, smooth:0.5, z:2, animation:false,
  data: band.map(([t,e]) => [tickK[a]+t*(tickK[b]-tickK[a]), e]),
  lineStyle:{color:'rgba(31,119,180,0.8)', width:4.4, cap:'round', join:'round'}
})));

const FONT = '"Liberation Serif","Times New Roman",serif';
const labelMap = new Map(tickK.map((k,i)=>[k,tickLabels[i]]));
const chart = echarts.init(document.getElementById('c'), null, {renderer:'canvas'});
const spine = {show:true, onZero:false, lineStyle:{color:'#000', width:4}};
const kMax = tickK[tickK.length-1];
chart.setOption({
  animation:false,
  backgroundColor:'#fff',
  grid:{left:137, right:23, top:21, bottom:83, containLabel:false, outerBoundsMode:'none'},
  xAxis:[
   {type:'value', min:0, max:kMax, z:10, axisLine:spine, splitLine:{show:false},
    axisTick:{show:true, customValues:tickK, length:18, lineStyle:{color:'#000', width:3.4}},
    axisLabel:{show:true, customValues:tickK, formatter:v=>labelMap.get(v)||'', fontFamily:FONT, fontSize:40, color:'#000', margin:31, hideOverlap:false, showMinLabel:true, showMaxLabel:true, alignMinLabel:'center', alignMaxLabel:'center'}},
   {type:'value', position:'top', min:0, max:kMax, z:10, axisLine:spine, axisTick:{show:false}, axisLabel:{show:false}, splitLine:{show:false}}
  ],
  yAxis:[
   {type:'value', min:-5, max:5, z:10, axisLine:spine, splitLine:{show:false},
    name:'Energy [eV]', nameLocation:'middle', nameGap:94, nameRotate:90, nameTextStyle:{fontFamily:FONT, fontSize:39, color:'#000'},
    axisTick:{show:true, customValues:energyMajor, length:18, lineStyle:{color:'#000', width:3.4}},
    axisLabel:{show:true, customValues:energyMajor, formatter:v=>String(v), fontFamily:FONT, fontSize:40, color:'#000', margin:32}},
   {type:'value', position:'right', min:-5, max:5, z:10, axisLine:spine, axisTick:{show:false}, axisLabel:{show:false}, splitLine:{show:false}},
   {type:'value', position:'left', min:-5, max:5, z:10, axisLine:spine, splitLine:{show:false}, axisLabel:{show:false},
    axisTick:{show:true, customValues:energyMinor, length:9, lineStyle:{color:'#000', width:3}}}
  ],
  series
});
</script></body></html>
